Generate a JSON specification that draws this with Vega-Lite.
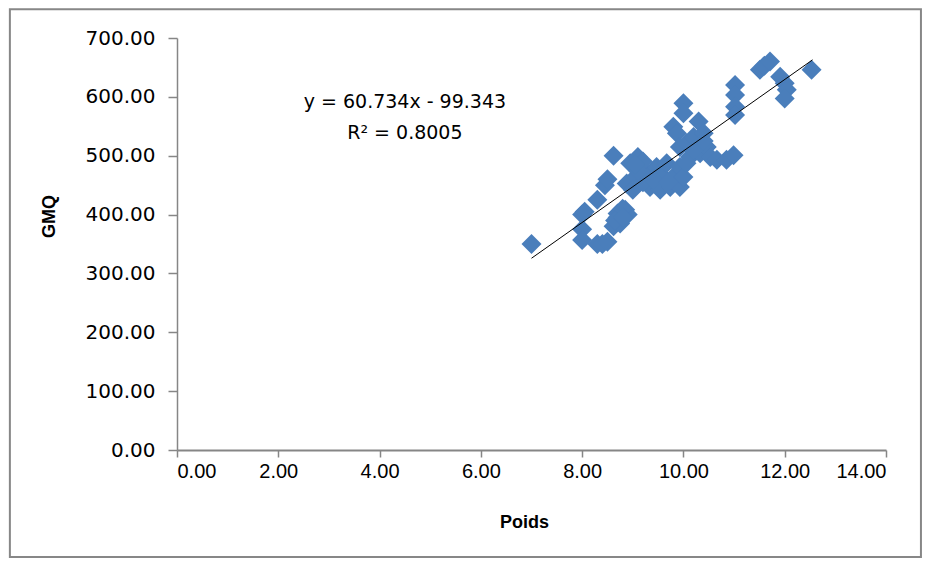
{
  "$schema": "https://vega.github.io/schema/vega-lite/v6.json",
  "width": 709,
  "height": 412,
  "autosize": "none",
  "padding": {"left": 177, "top": 38, "right": 44, "bottom": 115},
  "background": "white",
  "config": {"view": {"stroke": null}},
  "datasets": {
    "points": [
      {"Poids": 7.0, "GMQ": 350}, {"Poids": 8.0, "GMQ": 400}, {"Poids": 8.0, "GMQ": 375}, {"Poids": 8.0, "GMQ": 357},
      {"Poids": 8.05, "GMQ": 405}, {"Poids": 8.3, "GMQ": 425}, {"Poids": 8.3, "GMQ": 350}, {"Poids": 8.4, "GMQ": 350},
      {"Poids": 8.5, "GMQ": 354}, {"Poids": 8.45, "GMQ": 450}, {"Poids": 8.5, "GMQ": 460}, {"Poids": 8.62, "GMQ": 500},
      {"Poids": 8.62, "GMQ": 380}, {"Poids": 8.7, "GMQ": 395}, {"Poids": 8.85, "GMQ": 408}, {"Poids": 8.7, "GMQ": 402},
      {"Poids": 8.9, "GMQ": 400}, {"Poids": 8.95, "GMQ": 487}, {"Poids": 9.0, "GMQ": 459}, {"Poids": 8.88, "GMQ": 453},
      {"Poids": 9.1, "GMQ": 498}, {"Poids": 9.08, "GMQ": 464}, {"Poids": 9.0, "GMQ": 442}, {"Poids": 9.14, "GMQ": 480},
      {"Poids": 9.27, "GMQ": 470}, {"Poids": 9.34, "GMQ": 447}, {"Poids": 9.47, "GMQ": 481}, {"Poids": 9.54, "GMQ": 442},
      {"Poids": 9.6, "GMQ": 464}, {"Poids": 9.67, "GMQ": 487}, {"Poids": 9.74, "GMQ": 447}, {"Poids": 9.8, "GMQ": 464},
      {"Poids": 9.8, "GMQ": 549}, {"Poids": 9.87, "GMQ": 538}, {"Poids": 9.93, "GMQ": 447}, {"Poids": 9.93, "GMQ": 481},
      {"Poids": 9.93, "GMQ": 515}, {"Poids": 10.0, "GMQ": 464}, {"Poids": 10.0, "GMQ": 589}, {"Poids": 10.0, "GMQ": 572},
      {"Poids": 10.06, "GMQ": 487}, {"Poids": 10.06, "GMQ": 521}, {"Poids": 10.13, "GMQ": 498}, {"Poids": 10.2, "GMQ": 532},
      {"Poids": 10.3, "GMQ": 558}, {"Poids": 10.33, "GMQ": 504}, {"Poids": 10.4, "GMQ": 538}, {"Poids": 10.46, "GMQ": 515},
      {"Poids": 10.53, "GMQ": 498}, {"Poids": 10.66, "GMQ": 493}, {"Poids": 10.85, "GMQ": 493}, {"Poids": 10.99, "GMQ": 501},
      {"Poids": 11.02, "GMQ": 620}, {"Poids": 11.02, "GMQ": 603}, {"Poids": 11.02, "GMQ": 583}, {"Poids": 11.02, "GMQ": 569},
      {"Poids": 11.51, "GMQ": 646}, {"Poids": 11.6, "GMQ": 653}, {"Poids": 11.71, "GMQ": 660}, {"Poids": 11.91, "GMQ": 634},
      {"Poids": 12.0, "GMQ": 623}, {"Poids": 12.04, "GMQ": 612}, {"Poids": 12.0, "GMQ": 597}, {"Poids": 12.53, "GMQ": 646},
      {"Poids": 9.2, "GMQ": 455}, {"Poids": 9.4, "GMQ": 460}, {"Poids": 9.7, "GMQ": 455}, {"Poids": 9.2, "GMQ": 490},
      {"Poids": 9.1, "GMQ": 475}, {"Poids": 8.8, "GMQ": 410}, {"Poids": 8.75, "GMQ": 385}, {"Poids": 9.05, "GMQ": 485},
      {"Poids": 10.2, "GMQ": 510}, {"Poids": 10.4, "GMQ": 525}, {"Poids": 8.65, "GMQ": 390}, {"Poids": 8.8, "GMQ": 395}
    ],
    "trend": [
      {"Poids": 7.0, "GMQ": 325.8},
      {"Poids": 12.55, "GMQ": 662.9}
    ],
    "labels": [
      {"Poids": 4.5, "GMQ": 591, "text": "y = 60.734x - 99.343"},
      {"Poids": 4.5, "GMQ": 539, "text": "R² = 0.8005"}
    ]
  },
  "layer": [
    {
      "data": {"name": "points"},
      "mark": {"type": "point", "shape": "diamond", "filled": true, "size": 400, "color": "#4A7EBB", "opacity": 1},
      "encoding": {
        "x": {
          "field": "Poids", "type": "quantitative",
          "scale": {"domain": [0, 14], "nice": false, "zero": false},
          "axis": {
            "values": [0, 2, 4, 6, 8, 10, 12, 14], "format": ".2f", "grid": false,
            "domainColor": "#868686", "domainWidth": 2, "tickColor": "#868686", "tickWidth": 1.5, "tickSize": 7,
            "labelFont": "Liberation Sans", "labelFontSize": 20, "labelColor": "#000000", "labelPadding": 4,
            "title": "Poids", "titleFont": "Liberation Sans", "titleFontSize": 18, "titleFontWeight": "bold",
            "titleColor": "#000000", "titleX": 347, "titleY": 72, "titleBaseline": "middle", "titleAlign": "center"
          }
        },
        "y": {
          "field": "GMQ", "type": "quantitative",
          "scale": {"domain": [0, 700], "nice": false},
          "axis": {
            "values": [0, 100, 200, 300, 400, 500, 600, 700], "format": ".2f", "grid": false,
            "domainColor": "#868686", "domainWidth": 1.5, "tickColor": "#868686", "tickWidth": 1.5, "tickSize": 9,
            "labelFont": "DejaVu Sans", "labelFontSize": 20, "labelColor": "#000000", "labelPadding": 13,
            "title": "GMQ", "titleFont": "Liberation Sans", "titleFontSize": 18, "titleFontWeight": "bold",
            "titleColor": "#000000", "titleAngle": -90, "titleX": -128, "titleY": 178, "titleBaseline": "middle", "titleAlign": "center"
          }
        }
      }
    },
    {
      "data": {"name": "trend"},
      "mark": {"type": "line", "color": "#000000", "strokeWidth": 1},
      "encoding": {
        "x": {"field": "Poids", "type": "quantitative"},
        "y": {"field": "GMQ", "type": "quantitative"}
      }
    },
    {
      "data": {"name": "labels"},
      "mark": {"type": "text", "font": "DejaVu Sans", "fontSize": 19, "color": "#000000", "align": "center", "baseline": "middle"},
      "encoding": {
        "x": {"field": "Poids", "type": "quantitative"},
        "y": {"field": "GMQ", "type": "quantitative"},
        "text": {"field": "text"}
      }
    },
    {
      "data": {"values": [{}]},
      "mark": {"type": "rect", "fill": null, "stroke": "#878787", "strokeWidth": 2},
      "encoding": {
        "x": {"datum": -3.30, "type": "quantitative"},
        "x2": {"datum": 14.69},
        "y": {"datum": 749, "type": "quantitative"},
        "y2": {"datum": -182}
      }
    }
  ]
}
